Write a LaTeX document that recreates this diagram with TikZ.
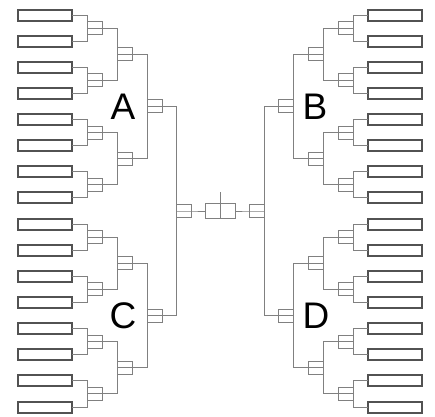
\documentclass[tikz,border=0pt]{standalone}
\usepackage{fontspec}
\setmainfont{Liberation Sans}
\begin{document}
\begin{tikzpicture}[x=1pt,y=-1pt,
  team/.style={draw=black!68, line width=2pt, fill=white, minimum width=54pt, minimum height=11pt, inner sep=0pt, outer sep=0pt},
  match/.style={draw=black!50, line width=1pt, fill=white, minimum width=15pt, minimum height=13pt, inner sep=0pt, outer sep=0pt},
  final/.style={draw=black!50, line width=1pt, fill=white, minimum width=30pt, minimum height=15pt, inner sep=0pt, outer sep=0pt},
  conn/.style={draw=black!50, line width=1pt},
  lbl/.style={font=\fontsize{37}{37}\selectfont, inner sep=0pt}]
\useasboundingbox (0,0) rectangle (435,416);
% round 1
\foreach \i in {0,...,15} {
  \pgfmathsetmacro\yy{15+26.133*\i}
  \node[team] (L1-\i) at (45,\yy) {};
  \node[team] (R1-\i) at (395,\yy) {};
}
% round 2
\foreach \j in {0,...,7} {
  \pgfmathsetmacro\yy{15+26.133*(2*\j+0.5)}
  \node[match] (L2-\j) at (94.5,\yy) {};
  \node[match] (R2-\j) at (345.5,\yy) {};
}
% round 3
\foreach \k in {0,...,3} {
  \pgfmathsetmacro\yy{15+26.133*(4*\k+1.5)}
  \node[match] (L3-\k) at (124.5,\yy) {};
  \node[match] (R3-\k) at (315.5,\yy) {};
}
% round 4
\foreach \m in {0,1} {
  \pgfmathsetmacro\yy{15+26.133*(8*\m+3.5)}
  \node[match] (L4-\m) at (154.5,\yy) {};
  \node[match] (R4-\m) at (285.5,\yy) {};
}
% round 5 and final
\node[match] (L5) at (183.5,211) {};
\node[match] (R5) at (256.5,211) {};
\node[final] (F) at (220,211) {};
\coordinate (tick) at (220,192);
% connectors round 1 -> 2
\foreach \j [evaluate=\j as \a using {int(2*\j)}, evaluate=\j as \b using {int(2*\j+1)}] in {0,...,7} {
  \draw[conn] (L1-\a.east) -| (L2-\j.west);
  \draw[conn] (L1-\b.east) -| (L2-\j.west);
  \draw[conn] (R1-\a.west) -| (R2-\j.east);
  \draw[conn] (R1-\b.west) -| (R2-\j.east);
}
% round 2 -> 3
\foreach \j [evaluate=\j as \k using {int(\j/2)}] in {0,...,7} {
  \draw[conn] (L2-\j.west) -- (L2-\j.east) -| (L3-\k.west);
  \draw[conn] (R2-\j.east) -- (R2-\j.west) -| (R3-\k.east);
}
% round 3 -> 4
\foreach \k [evaluate=\k as \m using {int(\k/2)}] in {0,...,3} {
  \draw[conn] (L3-\k.west) -- (L3-\k.east) -| (L4-\m.west);
  \draw[conn] (R3-\k.east) -- (R3-\k.west) -| (R4-\m.east);
}
% round 4 -> 5
\foreach \m in {0,1} {
  \draw[conn] (L4-\m.west) -- (L4-\m.east) -| (L5.west);
  \draw[conn] (R4-\m.east) -- (R4-\m.west) -| (R5.east);
}
% round 5 -> final
\draw[conn] (L5.west) -- (L5.east) -- (F.west);
\draw[conn] (R5.east) -- (R5.west) -- (F.east);
\draw[conn] (tick) -- (F.south);
% labels
\node[lbl] (qa) at (123,107) {A};
\node[lbl] (qb) at (315,107) {B};
\node[lbl] (qc) at (123,316) {C};
\node[lbl] (qd) at (316,316) {D};
\end{tikzpicture}
\end{document}
